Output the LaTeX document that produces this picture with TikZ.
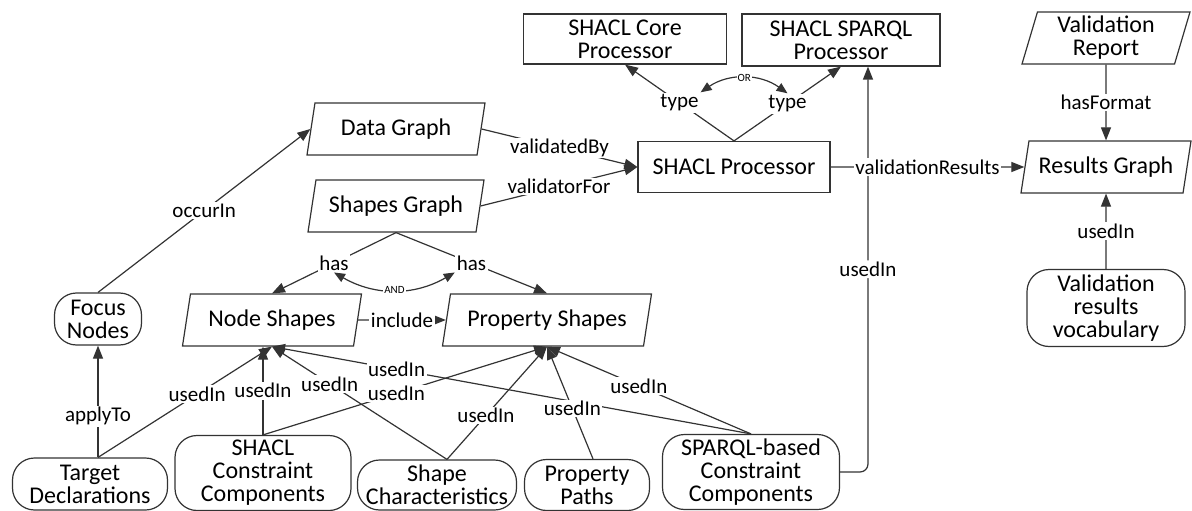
\documentclass[tikz,border=0pt]{standalone}
\usepackage{fontspec}
\setmainfont{Carlito}
\usepackage{tikz}
\usetikzlibrary{shapes.geometric, arrows.meta}
\newcommand{\boxfont}{\fontsize{24}{23}\selectfont}
\newcommand{\edgefont}{\fontsize{21}{24}\selectfont}
\newcommand{\tagfont}{\fontsize{11}{12}\selectfont}
\tikzstyle{processor} = [rectangle, draw=black!80, line width=1.2pt, fill=white,
    align=center, font=\boxfont, inner sep=2pt]
\tikzstyle{graphbox} = [trapezium, trapezium left angle=72, trapezium right angle=108,
    trapezium stretches body, draw=black!80, line width=1.2pt, fill=white,
    align=center, font=\boxfont, inner sep=2pt, minimum height=52pt]
\tikzstyle{topic} = [rectangle, rounded corners=22pt, draw=black!80, line width=1.2pt,
    fill=white, align=center, font=\boxfont, inner sep=1pt]
\tikzstyle{line} = [draw=black!80, line width=1.2pt, -{Triangle[length=13pt, width=10pt]}]
\tikzstyle{choice} = [draw=black!80, line width=1.2pt,
    {Triangle[length=11pt, width=9pt]}-{Triangle[length=11pt, width=9pt]}]
\tikzstyle{lbl} = [fill=white, font=\edgefont, inner sep=1.5pt]
\tikzstyle{smalltag} = [fill=white, font=\tagfont, inner sep=1pt]

\begin{document}
\begin{tikzpicture}[x=1pt, y=-1pt]
    \useasboundingbox (0,0) rectangle (1192,511);
    % Nodes
    \node [processor, minimum width=203pt, minimum height=50pt] (core) at (625,39) {SHACL Core\\Processor};
    \node [processor, minimum width=198pt, minimum height=52pt] (sparql) at (841,40) {SHACL SPARQL\\Processor};
    \node [processor, minimum width=192pt, minimum height=51pt] (proc) at (734,167) {SHACL Processor};
    \node [graphbox, minimum width=168pt] (report) at (1106,38) {Validation\\Report};
    \node [graphbox, minimum width=170pt, below of=report, node distance=129pt] (results) {Results Graph};
    \node [topic, minimum width=158pt, minimum height=77pt, below of=results, node distance=141pt] (vocab) {Validation\\results\\vocabulary};
    \node [graphbox, minimum width=178pt] (data) at (396,129) {Data Graph};
    \node [graphbox, minimum width=176pt, below of=data, node distance=77pt] (shapes) {Shapes Graph};
    \node [graphbox, minimum width=179pt] (ns) at (272,320) {Node Shapes};
    \node [graphbox, minimum width=209pt, right of=ns, node distance=275pt] (ps) {Property Shapes};
    \node [topic, minimum width=87pt, minimum height=52pt] (focus) at (98,319) {Focus\\Nodes};
    \node [topic, minimum width=155pt, minimum height=52pt] (target) at (90,484) {Target\\Declarations};
    \node [topic, minimum width=176pt, minimum height=75pt] (scc) at (263,473) {SHACL\\Constraint\\Components};
    \node [topic, minimum width=159pt, minimum height=50pt] (sc) at (437,485) {Shape\\Characteristics};
    \node [topic, minimum width=125pt, minimum height=51pt] (pp) at (587,485) {Property\\Paths};
    \node [topic, minimum width=177pt, minimum height=75pt] (sparqlcc) at (751,472) {SPARQL-based\\Constraint\\Components};

    % Edges
    \path [line] (proc.north) -- node [lbl] (typel) {type} (core.south);
    \path [line] (proc.north) -- node [lbl] (typer) {type} (sparql.south);
    \path [choice] (typel.north east) to [bend left=35] node [smalltag] {OR} (typer.north);
    \path [line] (data.east) -- node [lbl] {validatedBy} (proc.west);
    \path [line] (shapes.east) -- node [lbl] {validatorFor} (proc.west);
    \path [line, rounded corners=8pt] (sparqlcc.east) -| node [lbl, pos=0.75] {usedIn} ([xshift=27pt]sparql.south);
    \path [line] (proc.east) -- node [lbl] {validationResults} (results.west);
    \path [line] (report.south) -- node [lbl] {hasFormat} (results.north);
    \path [line] (vocab.north) -- node [lbl] {usedIn} (results.south);
    \path [line] (shapes.south) -- node [lbl] (hasl) {has} (ns.north);
    \path [line] (shapes.south) -- node [lbl] (hasr) {has} (ps.north);
    \path [choice] (hasl.south) to [bend right=30] node [smalltag] {AND} (hasr.south west);
    \path [line] (ns.east) -- node [lbl] {include} (ps.west);
    \path [line] (focus.north) -- node [lbl] {occurIn} (data.west);
    \path [line] (focus.south |- target.north) -- node [lbl, pos=0.37] {applyTo} (focus.south);

    % usedIn edges into the shapes
    \path [line] (focus.south |- target.north) -- node [lbl, pos=0.57] {usedIn} (ns.south);
    \path [line] (scc.north) -- node [lbl] {usedIn} (scc.north |- ns.south);
    \path [line] ([xshift=10pt]sc.north) -- node [lbl, pos=0.67] {usedIn} (ns.south);
    \path [line] (sparqlcc.north) -- node [lbl, pos=0.74] {usedIn} (ns.south);
    \path [line] (scc.north) -- node [lbl, pos=0.47] {usedIn} (ps.south);
    \path [line] ([xshift=10pt]sc.north) -- node [lbl, pos=0.39] {usedIn} (ps.south);
    \path [line] ([xshift=6pt]pp.north) -- node [lbl, pos=0.45] {usedIn} (ps.south);
    \path [line] (sparqlcc.north) -- node [lbl, pos=0.55] {usedIn} (ps.south);
\end{tikzpicture}
\end{document}
